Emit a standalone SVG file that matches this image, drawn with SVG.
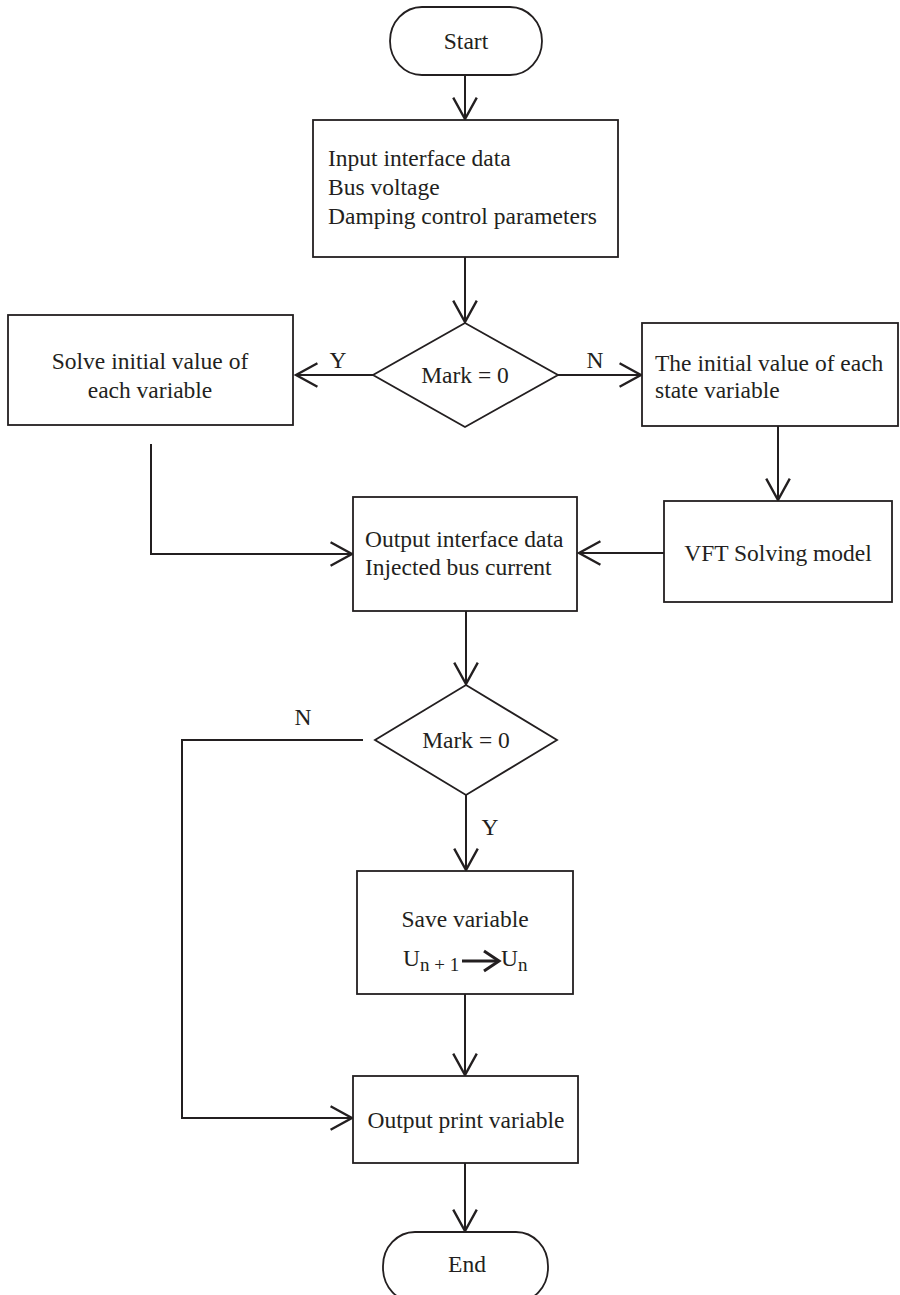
<svg xmlns="http://www.w3.org/2000/svg" width="900" height="1295" viewBox="0 0 900 1295">
  <defs>
    <marker id="open-arrow" markerUnits="userSpaceOnUse" markerWidth="30" markerHeight="30" viewBox="-24 -14 28 28" refX="0" refY="0" orient="auto">
      <path d="M-20,-11 L0,0 L-20,11" fill="none" stroke="#231f20" stroke-width="2.2" stroke-linejoin="miter"/>
    </marker>
    <style>
      .shape { fill: #ffffff; stroke: #231f20; stroke-width: 1.8; }
      .conn { fill: none; stroke: #231f20; stroke-width: 2; }
      .arrow { marker-end: url(#open-arrow); }
      text { font-family: "Liberation Serif", "Times New Roman", serif; font-size: 23.5px; fill: #231f20; }
      .mid { text-anchor: middle; }
      .sub { font-size: 19px; }
    </style>
  </defs>
  <rect width="900" height="1295" fill="#ffffff"/>

  <!-- connectors -->
  <g id="connectors">
    <line class="conn arrow" x1="465" y1="75" x2="465" y2="119"/>
    <line class="conn arrow" x1="465" y1="257" x2="465" y2="322"/>
    <line class="conn arrow" x1="373" y1="375" x2="296" y2="375"/>
    <line class="conn arrow" x1="558" y1="375" x2="641" y2="375"/>
    <line class="conn arrow" x1="778" y1="426" x2="778" y2="500"/>
    <polyline class="conn arrow" points="151,444 151,554 352,554"/>
    <line class="conn arrow" x1="664" y1="553" x2="579" y2="553"/>
    <line class="conn arrow" x1="466" y1="611" x2="466" y2="684"/>
    <polyline class="conn arrow" points="363,740 182,740 182,1118 352,1118"/>
    <line class="conn arrow" x1="466" y1="795" x2="466" y2="870"/>
    <line class="conn arrow" x1="465" y1="994" x2="465" y2="1075"/>
    <line class="conn arrow" x1="465" y1="1163" x2="465" y2="1231"/>
    <text x="338" y="368" class="mid">Y</text>
    <text x="595" y="368" class="mid">N</text>
    <text x="303" y="725" class="mid">N</text>
    <text x="490" y="835" class="mid">Y</text>
  </g>

  <!-- start terminator -->
  <g id="start">
    <rect class="shape" x="390" y="7" width="152" height="68" rx="32" ry="34"/>
    <text x="466" y="49" class="mid">Start</text>
  </g>

  <!-- input data -->
  <g id="input">
    <rect class="shape" x="313" y="120" width="305" height="137"/>
    <text x="328" y="166">Input interface data</text>
    <text x="328" y="195">Bus voltage</text>
    <text x="328" y="224">Damping control parameters</text>
  </g>

  <!-- first decision -->
  <g id="decision1">
    <polygon class="shape" points="465,323 558,375 465,427 373,375"/>
    <text x="465" y="383" class="mid">Mark = 0</text>
  </g>

  <!-- initial value solver -->
  <g id="solve-initial">
    <rect class="shape" x="8" y="315" width="285" height="110"/>
    <text x="150" y="369" class="mid">Solve initial value of</text>
    <text x="150" y="398" class="mid">each variable</text>
  </g>

  <!-- stored state values -->
  <g id="state-initial">
    <rect class="shape" x="642" y="323" width="256" height="103"/>
    <text x="655" y="371">The initial value of each</text>
    <text x="655" y="398">state variable</text>
  </g>

  <!-- VFT model -->
  <g id="vft-model">
    <rect class="shape" x="664" y="501" width="228" height="101"/>
    <text x="778" y="561" class="mid">VFT Solving model</text>
  </g>

  <!-- output interface -->
  <g id="output-interface">
    <rect class="shape" x="353" y="497" width="224" height="114"/>
    <text x="365" y="547">Output interface data</text>
    <text x="365" y="575">Injected bus current</text>
  </g>

  <!-- second decision -->
  <g id="decision2">
    <polygon class="shape" points="466,685 557,740 466,795 375,740"/>
    <text x="466" y="748" class="mid">Mark = 0</text>
  </g>

  <!-- save variable -->
  <g id="save-variable">
    <rect class="shape" x="357" y="871" width="216" height="123"/>
    <text x="465" y="927" class="mid">Save variable</text>
    <text x="403" y="966">U<tspan class="sub" dy="5">n + 1</tspan></text>
    <line x1="462" y1="961" x2="497" y2="961" stroke="#231f20" stroke-width="3"/>
    <path d="M484,951 L499,961 L484,971" fill="none" stroke="#231f20" stroke-width="3"/>
    <text x="501" y="966">U<tspan class="sub" dy="5">n</tspan></text>
  </g>

  <!-- output print -->
  <g id="output-print">
    <rect class="shape" x="353" y="1076" width="225" height="87"/>
    <text x="466" y="1128" class="mid">Output print variable</text>
  </g>

  <!-- end terminator -->
  <g id="end">
    <rect class="shape" x="383" y="1232" width="165" height="70" rx="32" ry="34"/>
    <text x="467" y="1272" class="mid">End</text>
  </g>
</svg>
